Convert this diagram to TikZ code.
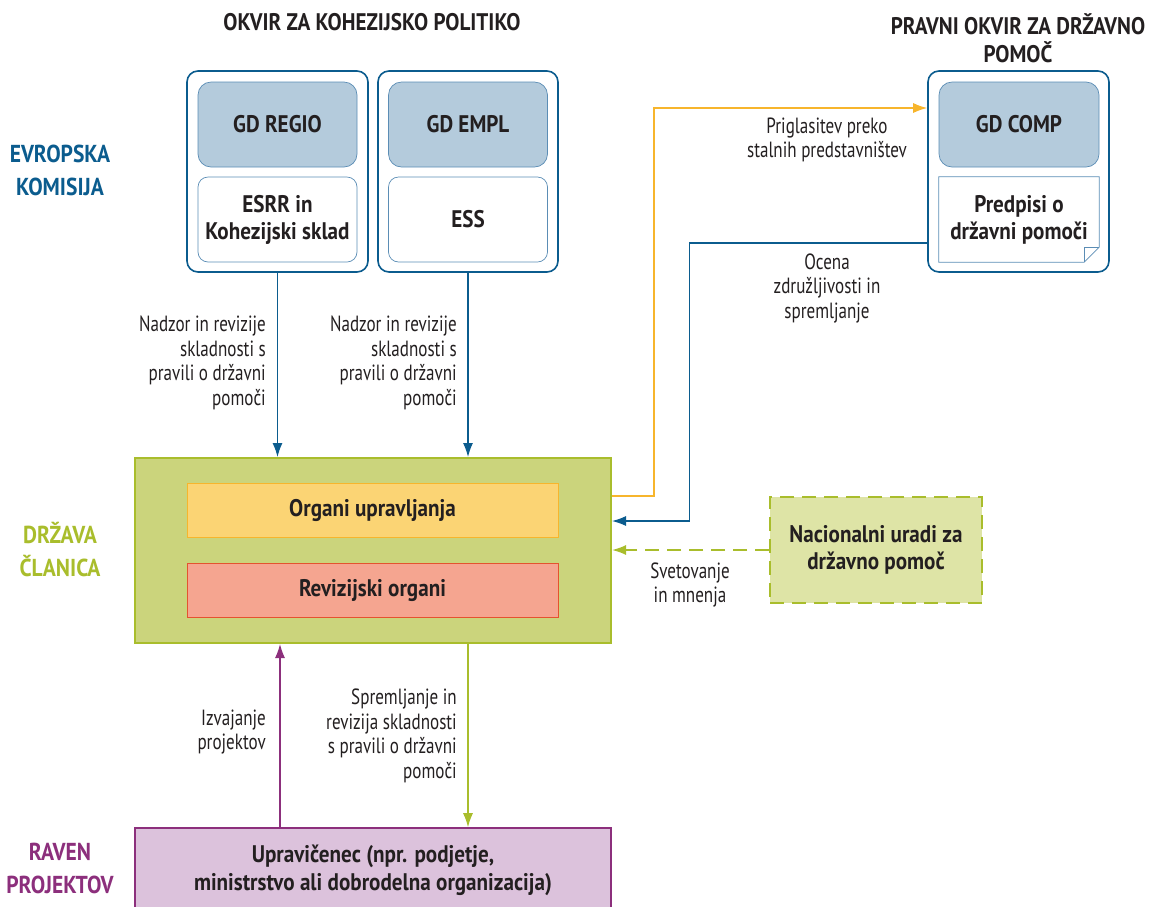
\documentclass[tikz,border=0pt]{standalone}
\usepackage{fontspec}
\setmainfont{PT Sans}[FakeStretch=0.775, BoldFeatures={FakeStretch=0.88}]
\usetikzlibrary{arrows.meta,positioning}

\definecolor{ecblue}{HTML}{0B5C8E}
\definecolor{gdblue}{HTML}{B4CBDC}
\definecolor{gdline}{HTML}{5B8DB5}
\definecolor{msgreen}{HTML}{A9BD2C}
\definecolor{msfill}{HTML}{CBD47C}
\definecolor{magold}{HTML}{F7B52C}
\definecolor{mafill}{HTML}{FBD474}
\definecolor{aared}{HTML}{E4532F}
\definecolor{aafill}{HTML}{F5A590}
\definecolor{prjpurple}{HTML}{8C2F7C}
\definecolor{prjfill}{HTML}{DCC2DC}
\definecolor{natfill}{HTML}{DEE4A6}
\definecolor{txtgray}{HTML}{231F20}

\begin{document}
\begin{tikzpicture}[
  x=1pt, y=-1pt,
  >={Latex[length=14pt,width=10pt]},
  every node/.style={text=txtgray, inner sep=0pt, align=center, font=\fontsize{22}{24.5}\selectfont},
  heading/.style={font=\bfseries\fontsize{24}{28}\selectfont},
  level/.style={font=\bfseries\fontsize{24.5}{33}\selectfont},
  outerbox/.style={draw=ecblue, line width=1.6pt, rounded corners=11pt, minimum width=181pt, minimum height=201pt},
  gdbox/.style={draw=gdline, fill=gdblue, line width=0.7pt, rounded corners=13pt, minimum width=159pt, minimum height=85pt, font=\bfseries\fontsize{24}{27}\selectfont},
  fundbox/.style={draw=gdline, line width=0.7pt, rounded corners=10pt, minimum width=159pt, minimum height=85pt, font=\bfseries\fontsize{24}{27}\selectfont},
  bodybox/.style={minimum width=371pt, minimum height=54pt, line width=1pt, font=\bfseries\fontsize{24}{27}\selectfont},
  flowlabel/.style={anchor=east, align=right},
  ]
  \useasboundingbox (0,0) rectangle (1159,906);
  % headings
  \node[heading] (cohesion) at (372,22) {OKVIR ZA KOHEZIJSKO POLITIKO};
  \node[heading] (aidframe) at (1018,38) {PRAVNI OKVIR ZA DRŽAVNO\\POMOČ};
  \node[level, text=ecblue] (commission) at (60,170) {EVROPSKA\\KOMISIJA};
  \node[level, text=msgreen] (memberlvl) at (60,550) {DRŽAVA\\ČLANICA};
  \node[level, text=prjpurple] (projectlvl) at (60,868) {RAVEN\\PROJEKTOV};

  % commission
  \node[outerbox] (regioframe) at (277.5,171.5) {};
  \node[gdbox] (regio) at (277.5,124.5) {GD REGIO};
  \node[fundbox] (erdf) at (277.5,219.5) {ESRR in\\Kohezijski sklad};
  \node[outerbox, minimum width=180pt] (emplframe) at (468,171.5) {};
  \node[gdbox] (empl) at (468,124.5) {GD EMPL};
  \node[fundbox] (esf) at (468,219.5) {ESS};
  \node[outerbox] (compframe) at (1018.5,171.5) {};
  \node[gdbox, minimum width=160pt] (comp) at (1019,124.5) {GD COMP};
  \node[minimum width=160pt, minimum height=85pt, font=\bfseries\fontsize{24}{27}\selectfont] (rules) at (1019,219.5) {Predpisi o\\državni pomoči};
  \draw[gdline, line width=0.7pt] (rules.north west) -- (rules.north east) -- ([yshift=15pt]rules.south east)
    -- ([xshift=-15pt]rules.south east) -- (rules.south west) -- cycle;
  \draw[gdline, line width=0.5pt] ([yshift=15pt]rules.south east) -- ([xshift=-15pt,yshift=15pt]rules.south east) -- ([xshift=-15pt]rules.south east);

  % member state
  \node[draw=msgreen, fill=msfill, line width=2pt, minimum width=476pt, minimum height=185pt] (member) at (373,550.5) {};
  \node[bodybox, draw=magold, fill=mafill] (managing) at (372.5,510.5) {Organi upravljanja};
  \node[bodybox, draw=aared, fill=aafill] (audit) at (372.5,590) {Revizijski organi};
  \node[draw=msgreen, fill=natfill, line width=1.6pt, dash pattern=on 14pt off 8pt, minimum width=212pt, minimum height=106pt, font=\bfseries\fontsize{24}{27}\selectfont] (national) at (876,550) {Nacionalni uradi za\\državno pomoč};

  % project level
  \node[draw=prjpurple, fill=prjfill, line width=1.6pt, minimum width=476pt, minimum height=84pt, font=\bfseries\fontsize{24}{28}\selectfont] (beneficiary) at (373,870) {Upravičenec (npr. podjetje,\\ministrstvo ali dobrodelna organizacija)};

  % connectors
  \draw[->, ecblue, line width=1.2pt] (regioframe.south) -- (regioframe.south |- member.north);
  \draw[->, ecblue, line width=1.2pt] (emplframe.south) -- (emplframe.south |- member.north);
  \draw[->, magold, line width=1.2pt] ([yshift=54.5pt]member.east) -- ++(42,0) |- ([yshift=63.5pt]compframe.west);
  \draw[->, ecblue, line width=1.2pt] ([yshift=-71.5pt]compframe.west) -- ++(-238,0) |- ([yshift=29.5pt]member.east);
  \draw[->, msgreen, line width=1.6pt, dash pattern=on 14pt off 8pt] (national.west) -- (national.west -| member.east);
  \draw[->, prjpurple, line width=1.2pt] ([xshift=-93pt]beneficiary.north) -- ([xshift=-93pt]beneficiary.north |- member.south);
  \draw[->, msgreen, line width=1.2pt] ([xshift=95pt]member.south) -- ([xshift=95pt]member.south |- beneficiary.north);

  % connector labels
  \node[flowlabel] (regiolabel) at (266,363) {Nadzor in revizije\\skladnosti s\\pravili o državni\\pomoči};
  \node[flowlabel] (empllabel) at (457,363) {Nadzor in revizije\\skladnosti s\\pravili o državni\\pomoči};
  \node (notifylabel) at (827,140) {Priglasitev preko\\stalnih predstavništev};
  \node (assesslabel) at (827,288) {Ocena\\združljivosti in\\spremljanje};
  \node (advicelabel) at (690,585) {Svetovanje\\in mnenja};
  \node[flowlabel] (implabel) at (266,732) {Izvajanje\\projektov};
  \node[flowlabel] (monitorlabel) at (457,736) {Spremljanje in\\revizija skladnosti\\s pravili o državni\\pomoči};
\end{tikzpicture}
\end{document}
